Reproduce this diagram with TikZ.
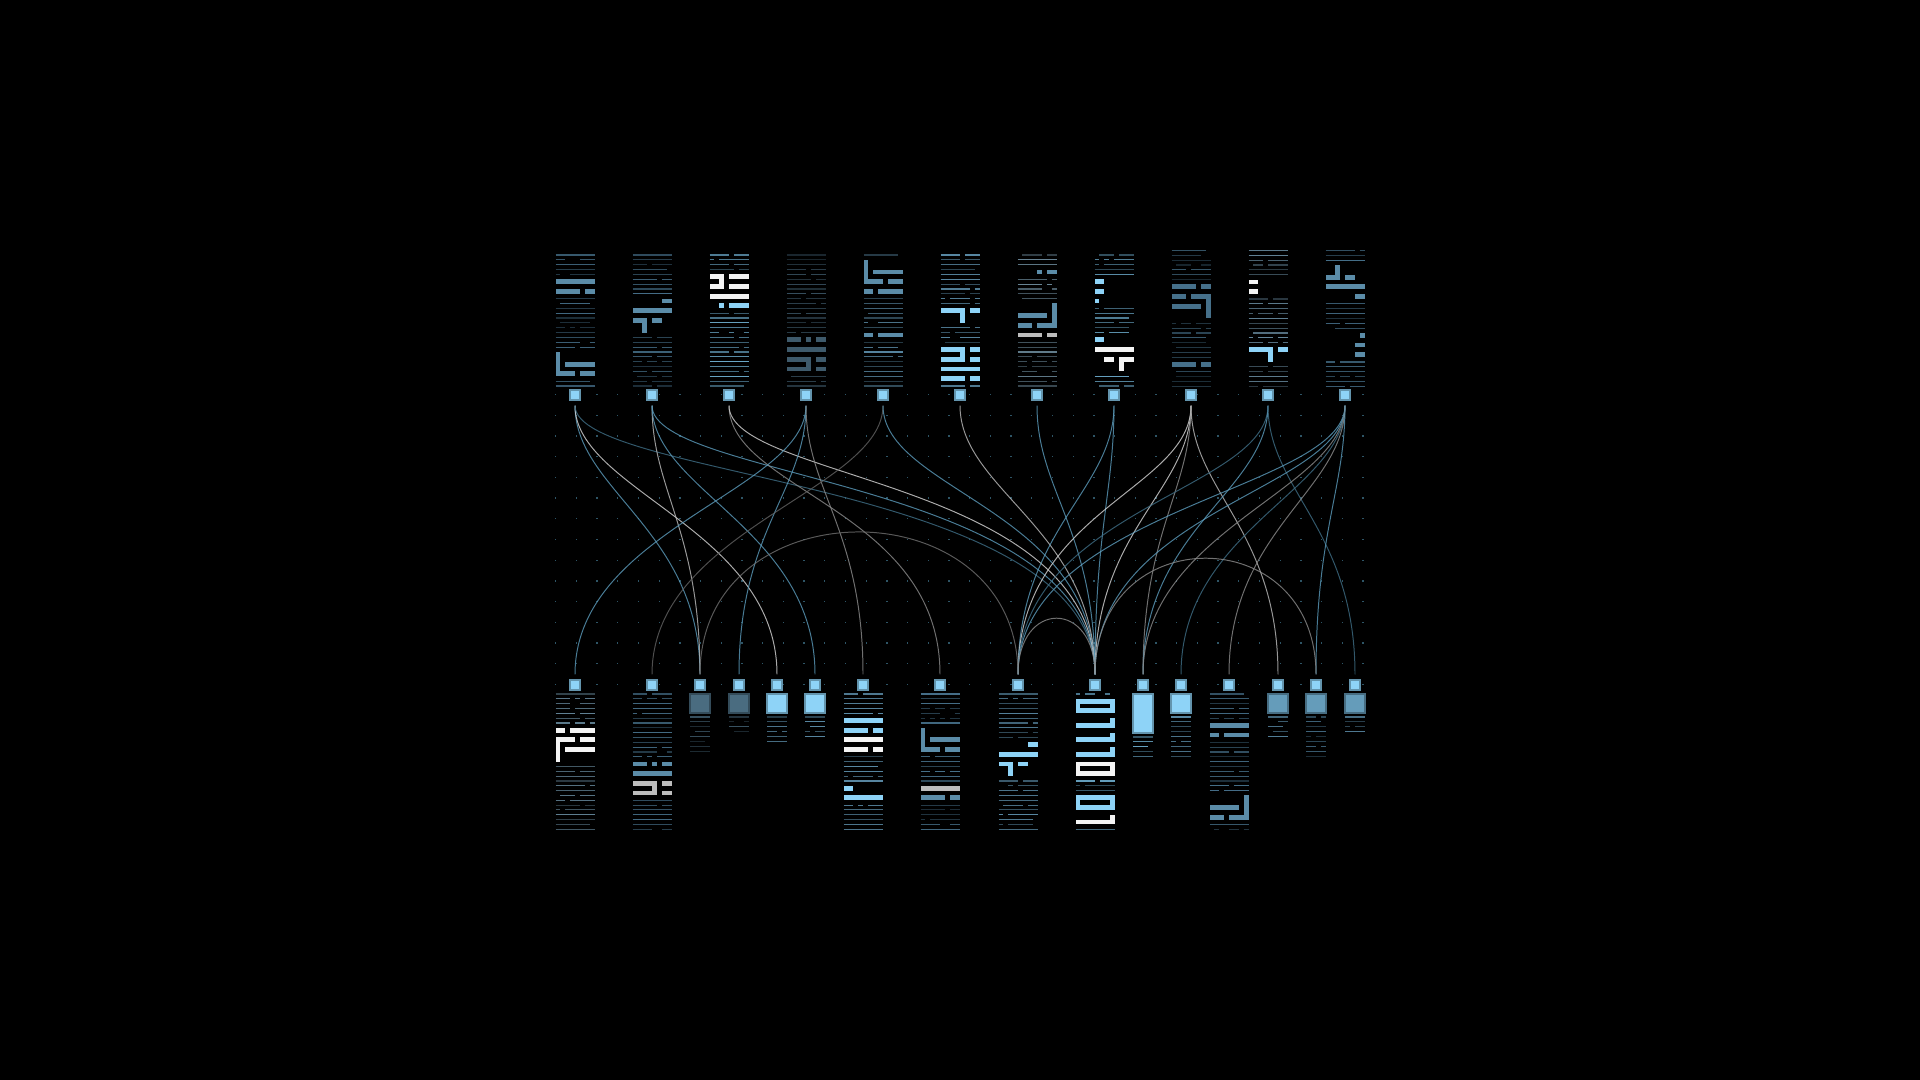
\documentclass[tikz,border=0pt]{standalone}
\usetikzlibrary{positioning}

\definecolor{sky}{HTML}{8ED3F7}
\definecolor{steel}{HTML}{5B8CA8}
\definecolor{dsteel}{HTML}{46708A}
\definecolor{slate}{HTML}{3E5A6B}
\definecolor{snow}{HTML}{F4F4F4}
\definecolor{ash}{HTML}{BDBDBD}
\definecolor{lineblue}{HTML}{6AA8C8}
\definecolor{portslate}{HTML}{4A6C80}
\definecolor{portsteel}{HTML}{659CBA}
\definecolor{griddot}{HTML}{2E5566}
\definecolor{wireblue}{HTML}{5C9CBC}
\definecolor{wiredark}{HTML}{3F6E86}
\definecolor{wiregray}{HTML}{8C8C8C}
\definecolor{wirewhite}{HTML}{D6D6D6}

\tikzset{
  port/.style={draw=sky!70!black, fill=sky, line width=0.3pt, minimum size=0.1cm, inner sep=0pt},
  wire/.style={line width=0.28pt, draw opacity=0.8, shorten <=0.05cm, shorten >=0.05cm},
}

% rows of broken lines: last line, number of cells, colour
\newcommand{\stripes}[3]{%
  \foreach \k in {0,...,#1}{%
    \pgfmathsetmacro{\rowop}{0.4+0.6*rnd}%
    \foreach \j in {1,...,#2}{%
      \pgfmathrandominteger{\cellon}{0}{11}%
      \ifnum\cellon>0 \draw[#3, draw opacity=\rowop, line width=0.33pt] (\j-1,\k) -- (\j,\k);\fi
    }%
  }%
}
% glyph cells: first row/last row/first cell/last cell/colour
\newcommand{\blocks}[1]{%
  \foreach \ya/\yb/\xa/\xb/\hue in {#1} \fill[black] (-0.1,\ya-0.25) rectangle (8.1,\yb+1.25);
  \foreach \ya/\yb/\xa/\xb/\hue in {#1} \fill[\hue] (\xa,\ya) rectangle (\xb+1,\yb+1);
}
% tall stack: centre, top, pitch, last line, line colour, glyphs
\newcommand{\stack}[6]{%
  \begin{scope}[shift={(#1-19.5,#2)}, xscale=4.875, yscale=#3]
    \stripes{#4}{8}{#5}
    \blocks{#6}
  \end{scope}}
% small pad: centre, box bottom, box colour, last line, line colour
\newcommand{\pad}[5]{%
  \fill[#3, draw=#3!70!black, line width=0.3pt] (#1-10,694) rectangle (#1+10,#2);
  \begin{scope}[shift={(#1-10,#2+4)}, xscale=5, yscale=4.9]
    \stripes{#4}{4}{#5}
  \end{scope}}

\begin{document}
\begin{tikzpicture}[x=0.01cm, y=-0.01cm]
\pgfmathsetseed{11}
\fill[black] (0,0) rectangle (1920,1080);
%
\foreach \i in {0,...,39}
  \foreach \j in {0,...,14}
    \fill[griddot] (555+\i*20.7,394+\j*20.7) rectangle ++(1.3,1.3);
%
\foreach \x [count=\i] in {575,652,...,1345} \node[port] (t\i) at (\x,395) {};
\foreach \x [count=\i] in {575,652,700,739,777,815,863,940,1018,1095,1143,1181,1229,1278,1316,1355}
  \node[port] (b\i) at (\x,685) {};
%
\foreach \src/\dst/\hue/\hu/\hv in {
  t1/b3/wireblue/90/150, t1/b5/wirewhite/90/150, t1/b10/wiredark/80/200,
  t2/b3/ash/90/150, t2/b6/wireblue/90/150, t2/b10/wireblue/80/200,
  t3/b8/wiregray/90/170, t3/b10/wirewhite/80/200,
  t4/b1/wireblue/90/150, t4/b4/wireblue/90/150, t4/b7/wiregray/90/150,
  t5/b2/wiregray!70!black/90/150, t5/b10/wireblue/90/170,
  t6/b10/ash/90/150, t7/b10/wireblue/90/150,
  t8/b9/wireblue/90/150, t8/b10/wireblue/90/150,
  t9/b9/wirewhite/90/170, t9/b10/wirewhite/90/150, t9/b11/wiregray/90/150, t9/b14/ash/90/150,
  t10/b9/wiredark/90/170, t10/b11/wireblue/90/150, t10/b16/wiredark/90/150,
  t11/b9/wireblue/90/170, t11/b10/wireblue/90/170, t11/b11/wiregray/90/150,
  t11/b12/wiredark/90/150, t11/b13/wiregray/90/150, t11/b15/wireblue/90/150}
  \draw[wire, \hue] (\src.south) .. controls +(0,\hu) and +(0,-\hv) .. (\dst.north);
\draw[wire, wiregray!80!black] (b3.north) .. controls +(0,-195) and +(0,-195) .. (b9.north);
\draw[wire, wiregray] (b9.north) .. controls +(0,-80) and +(0,-80) .. (b10.north);
\draw[wire, wiregray] (b10.north) .. controls +(0,-160) and +(0,-160) .. (b15.north);
%
\stack{575}{255}{4.85}{27}{dsteel}{5/5/0/7/steel, 7/7/0/4/steel, 7/7/6/7/steel, 20/24/0/0/steel, 22/22/2/7/steel, 24/24/0/3/steel, 24/24/5/7/steel}
\stack{652}{255}{4.85}{27}{dsteel}{9/9/6/7/steel, 11/11/0/7/steel, 13/13/0/2/steel, 13/13/4/5/steel, 13/15/2/2/steel}
\stack{729}{255}{4.85}{27}{lineblue}{4/4/0/2/snow, 4/4/4/7/snow, 5/5/2/2/snow, 6/6/0/2/snow, 6/6/4/7/snow, 8/8/0/7/snow, 10/10/2/2/sky, 10/10/4/7/sky}
\stack{806}{255}{4.85}{27}{slate}{17/17/0/2/slate, 17/17/4/4/slate, 17/17/6/7/slate, 19/19/0/7/slate, 21/21/0/4/slate, 21/21/6/7/slate, 22/22/4/4/slate, 23/23/0/4/slate, 23/23/6/7/slate}
\stack{883}{255}{4.85}{27}{steel}{1/5/0/0/steel, 3/3/2/7/steel, 5/5/0/3/steel, 5/5/5/7/steel, 7/7/0/1/steel, 7/7/3/7/steel, 16/16/0/1/steel, 16/16/3/7/steel}
\stack{960}{255}{4.85}{27}{steel}{11/11/0/4/sky, 11/11/6/7/sky, 11/13/4/4/sky, 19/19/0/4/sky, 19/19/6/7/sky, 20/20/4/4/sky, 21/21/0/4/sky, 21/21/6/7/sky, 23/23/0/7/sky, 25/25/0/4/sky, 25/25/6/7/sky}
\stack{1037}{255}{4.85}{27}{steel!60!gray}{3/3/4/4/steel, 3/3/6/7/steel, 10/14/7/7/steel, 12/12/0/5/steel, 14/14/0/2/steel, 14/14/4/6/steel, 16/16/0/4/ash, 16/16/6/7/ash}
\stack{1114}{255}{4.85}{27}{lineblue}{5/5/0/1/sky, 7/7/0/1/sky, 9/9/0/0/sky, 17/17/0/1/sky, 19/19/0/7/snow, 21/21/2/3/snow, 21/21/6/7/snow, 21/23/5/5/snow}
\stack{1191}{250.5}{4.85}{28}{dsteel!80!black}{7/7/0/4/dsteel, 7/7/6/7/dsteel, 9/9/0/2/dsteel, 9/9/4/6/dsteel, 9/13/7/7/dsteel, 11/11/0/5/dsteel, 23/23/0/4/dsteel, 23/23/6/7/dsteel}
\stack{1268}{250.5}{4.85}{28}{steel!70!gray}{6/6/0/1/snow, 8/8/0/1/snow, 20/20/0/3/sky, 20/20/6/7/sky, 20/22/4/4/sky}
\stack{1345}{250.5}{4.85}{28}{dsteel}{3/5/2/2/steel, 5/5/0/1/steel, 5/5/4/5/steel, 7/7/0/7/steel, 9/9/6/7/steel, 17/17/7/7/steel, 19/19/6/7/steel, 21/21/6/7/steel}
%
\stack{575}{694}{4.83}{28}{steel!70!gray}{7/7/0/1/snow, 7/7/3/7/snow, 9/13/0/0/snow, 9/9/0/3/snow, 9/9/5/7/snow, 11/11/2/7/snow}
\stack{652}{694}{4.83}{28}{dsteel}{14/14/0/2/steel, 14/14/4/4/steel, 14/14/6/7/steel, 16/16/0/7/steel, 18/18/0/4/ash, 18/18/6/7/ash, 18/20/4/4/ash, 20/20/0/4/ash, 20/20/6/7/ash}
\stack{863}{694}{4.83}{28}{steel}{5/5/0/7/sky, 7/7/0/4/sky, 7/7/6/7/sky, 9/9/0/7/snow, 11/11/0/4/snow, 11/11/6/7/snow, 19/19/0/1/sky, 21/21/0/7/sky}
\stack{940}{694}{4.83}{28}{dsteel}{7/11/0/0/steel, 9/9/2/7/steel, 11/11/0/3/steel, 11/11/5/7/steel, 19/19/0/7/ash, 21/21/0/4/steel, 21/21/6/7/steel}
\stack{1018}{694}{4.83}{28}{steel}{10/10/6/7/sky, 12/12/0/7/sky, 14/14/0/2/sky, 14/14/4/5/sky, 14/16/2/2/sky}
\stack{1095}{694}{4.83}{28}{lineblue}{1/1/0/7/sky, 2/2/0/0/sky, 2/2/7/7/sky, 3/3/0/7/sky, 5/5/7/7/sky, 6/6/0/7/sky, 8/8/7/7/sky, 9/9/0/7/sky, 11/11/7/7/sky, 12/12/0/7/sky, 14/14/0/7/snow, 15/15/0/0/snow, 15/15/7/7/snow, 16/16/0/7/snow, 21/21/0/7/sky, 22/22/0/0/sky, 22/22/7/7/sky, 23/23/0/7/sky, 25/25/7/7/snow, 26/26/0/7/snow}
\stack{1229}{694}{4.83}{28}{dsteel}{6/6/0/7/steel, 8/8/0/1/steel, 8/8/3/7/steel, 21/25/7/7/steel, 23/23/0/5/steel, 25/25/0/2/steel, 25/25/4/7/steel}
%
\pad{700}{713}{portslate}{7}{slate}
\pad{739}{713}{portslate}{3}{slate}
\pad{777}{713}{sky}{5}{steel}
\pad{815}{713}{sky}{4}{steel}
\pad{1143}{733}{sky}{4}{lineblue}
\pad{1181}{713}{sky}{8}{steel}
\pad{1278}{713}{portsteel}{4}{steel}
\pad{1316}{713}{portsteel}{8}{dsteel}
\pad{1355}{713}{portsteel}{3}{steel}
\end{tikzpicture}
\end{document}
